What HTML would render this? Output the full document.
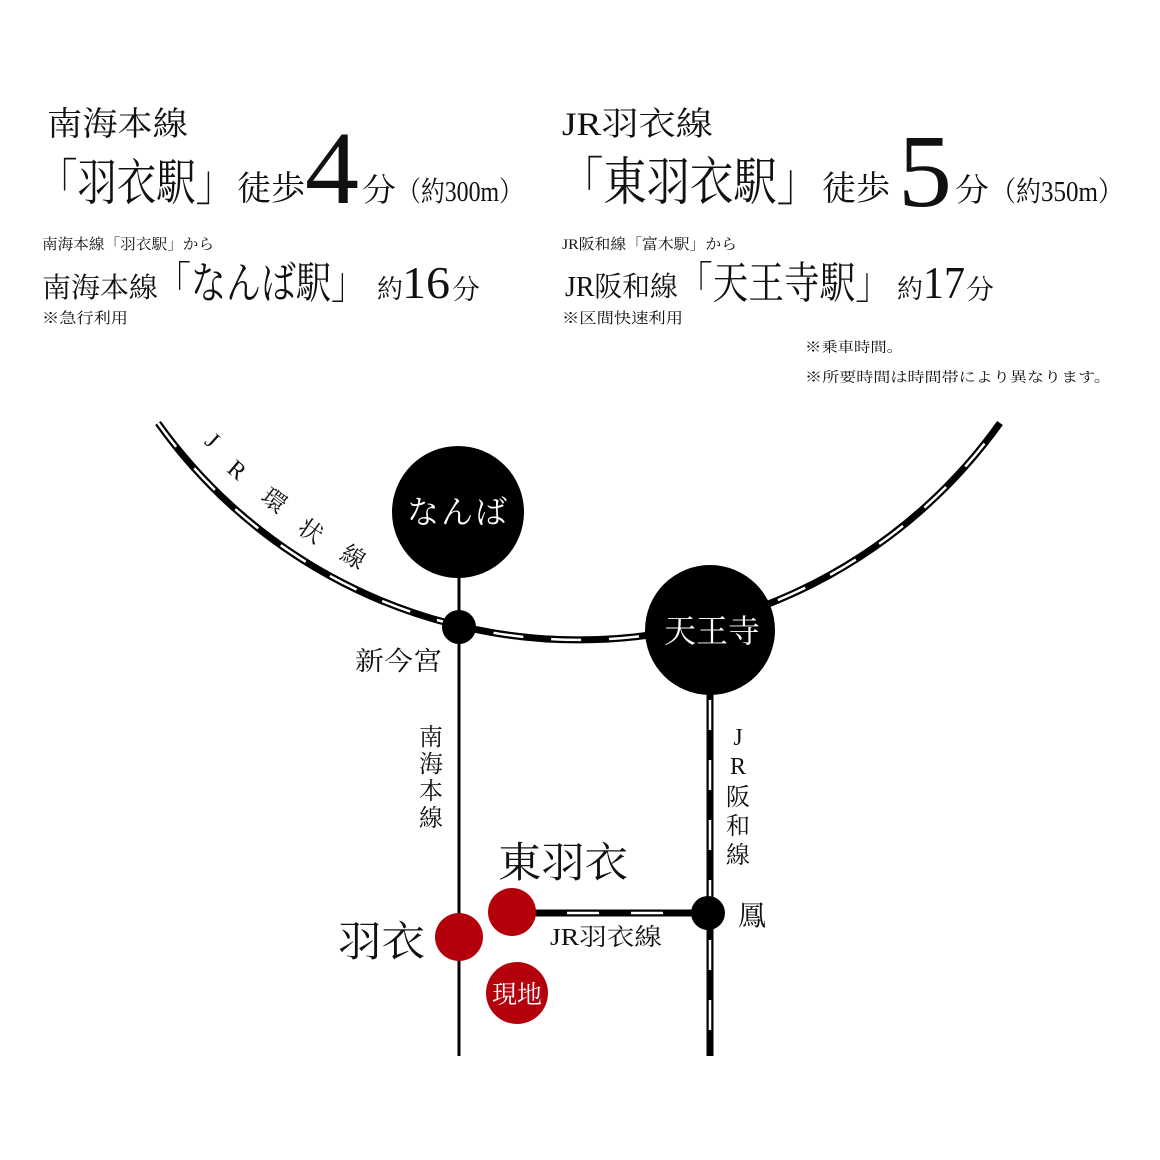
<!DOCTYPE html>
<html><head><meta charset="utf-8"><style>
html,body{margin:0;padding:0;background:#fff;}
svg{display:block;}
text{font-family:"Liberation Serif","Noto Serif CJK SC","Noto Serif CJK JP",serif;fill:#111;}
</style></head><body>
<svg width="1160" height="1160" viewBox="0 0 1160 1160" xmlns="http://www.w3.org/2000/svg">
<rect width="1160" height="1160" fill="#fff"/>
<g>
<text x="47" y="135" font-size="33" textLength="141" lengthAdjust="spacingAndGlyphs">南海本線</text>
<text x="38" y="200" font-size="50" textLength="197" lengthAdjust="spacingAndGlyphs">「羽衣駅」</text>
<text x="237" y="200" font-size="34" textLength="68" lengthAdjust="spacingAndGlyphs">徒歩</text>
<text x="305" y="203" font-size="104" textLength="54" lengthAdjust="spacingAndGlyphs">4</text>
<text x="362" y="201" font-size="32" textLength="34" lengthAdjust="spacingAndGlyphs">分</text>
<text x="397" y="201" font-size="28" textLength="126" lengthAdjust="spacingAndGlyphs">（約300m）</text>
<text x="42" y="249" font-size="15" textLength="172" lengthAdjust="spacingAndGlyphs">南海本線「羽衣駅」から</text>
<text x="42" y="297" font-size="28" textLength="116" lengthAdjust="spacingAndGlyphs">南海本線</text>
<text x="156" y="298" font-size="44" textLength="210" lengthAdjust="spacingAndGlyphs">「なんば駅」</text>
<text x="377" y="298" font-size="26" textLength="26" lengthAdjust="spacingAndGlyphs">約</text>
<text x="402" y="298" font-size="46" textLength="48" lengthAdjust="spacingAndGlyphs">16</text>
<text x="452" y="299" font-size="27" textLength="28" lengthAdjust="spacingAndGlyphs">分</text>
<text x="42" y="323" font-size="15" textLength="86" lengthAdjust="spacingAndGlyphs">※急行利用</text>

<text x="562" y="135" font-size="33" textLength="151" lengthAdjust="spacingAndGlyphs">JR羽衣線</text>
<text x="560" y="200" font-size="52" textLength="260" lengthAdjust="spacingAndGlyphs">「東羽衣駅」</text>
<text x="822" y="200" font-size="34" textLength="68" lengthAdjust="spacingAndGlyphs">徒歩</text>
<text x="898" y="206" font-size="104" textLength="54" lengthAdjust="spacingAndGlyphs">5</text>
<text x="955" y="201" font-size="32" textLength="34" lengthAdjust="spacingAndGlyphs">分</text>
<text x="991" y="201" font-size="28" textLength="132" lengthAdjust="spacingAndGlyphs">（約350m）</text>
<text x="562" y="249" font-size="15" textLength="175" lengthAdjust="spacingAndGlyphs">JR阪和線「富木駅」から</text>
<text x="565" y="296" font-size="28" textLength="113" lengthAdjust="spacingAndGlyphs">JR阪和線</text>
<text x="677" y="298" font-size="44" textLength="214" lengthAdjust="spacingAndGlyphs">「天王寺駅」</text>
<text x="897" y="298" font-size="26" textLength="26" lengthAdjust="spacingAndGlyphs">約</text>
<text x="923" y="298" font-size="46" textLength="42" lengthAdjust="spacingAndGlyphs">17</text>
<text x="966" y="299" font-size="27" textLength="28" lengthAdjust="spacingAndGlyphs">分</text>
<text x="562" y="323" font-size="15" textLength="121" lengthAdjust="spacingAndGlyphs">※区間快速利用</text>
<text x="805" y="352" font-size="14" textLength="98" lengthAdjust="spacingAndGlyphs">※乗車時間。</text>
<text x="805" y="382" font-size="14" textLength="306" lengthAdjust="spacingAndGlyphs">※所要時間は時間帯により異なります。</text>
</g>

<path d="M158,423 A517,517 0 0 0 1000,423" fill="none" stroke="#000" stroke-width="7"/>
<path d="M158,423 A517,517 0 0 0 1000,423" fill="none" stroke="#fff" stroke-width="2.5" stroke-dasharray="30 28"/>
<line x1="459" y1="512" x2="459" y2="1056" stroke="#000" stroke-width="3"/>
<line x1="710" y1="630" x2="710" y2="1056" stroke="#000" stroke-width="7"/>
<line x1="710" y1="630" x2="710" y2="1056" stroke="#fff" stroke-width="2.5" stroke-dasharray="30 30" stroke-dashoffset="-70"/>
<line x1="512" y1="913" x2="708" y2="913" stroke="#000" stroke-width="7"/>
<line x1="512" y1="913" x2="708" y2="913" stroke="#fff" stroke-width="2.5" stroke-dasharray="32 32" stroke-dashoffset="-55"/>

<circle cx="458" cy="512" r="66" fill="#000"/>
<circle cx="710" cy="630" r="65" fill="#000"/>
<circle cx="459" cy="627" r="17" fill="#000"/>
<circle cx="708" cy="913" r="17" fill="#000"/>
<circle cx="459" cy="937" r="24" fill="#b3000b"/>
<circle cx="512" cy="912" r="24" fill="#b3000b"/>
<circle cx="517" cy="993" r="31" fill="#b3000b"/>

<text x="458" y="523" font-size="32" text-anchor="middle" style="fill:#fff" letter-spacing="2">なんば</text>
<text x="712" y="642" font-size="32" text-anchor="middle" style="fill:#fff">天王寺</text>
<text x="517" y="1003" font-size="25" text-anchor="middle" style="fill:#fff">現地</text>

<text x="355" y="670" font-size="26" textLength="87" lengthAdjust="spacingAndGlyphs">新今宮</text>
<text x="498" y="877" font-size="42" textLength="130" lengthAdjust="spacingAndGlyphs">東羽衣</text>
<text x="338" y="956" font-size="42" textLength="87" lengthAdjust="spacingAndGlyphs">羽衣</text>
<text x="738" y="925" font-size="28">鳳</text>
<text x="550" y="945" font-size="24" textLength="112" lengthAdjust="spacingAndGlyphs">JR羽衣線</text>

<g font-size="24" text-anchor="middle">
<text x="431" y="745">南</text><text x="431" y="772">海</text><text x="431" y="799">本</text><text x="431" y="826">線</text>
<text x="738" y="745">J</text><text x="738" y="774">R</text><text x="738" y="805">阪</text><text x="738" y="834">和</text><text x="738" y="863">線</text>
</g>
<g font-size="24" text-anchor="middle">
<text transform="translate(207,446) rotate(42)">J</text>
<text transform="translate(232,476) rotate(40)">R</text>
<text transform="translate(269,507) rotate(37)">環</text>
<text transform="translate(306,538) rotate(34)">状</text>
<text transform="translate(349,564) rotate(31)">線</text>
</g>
</svg>
</body></html>
